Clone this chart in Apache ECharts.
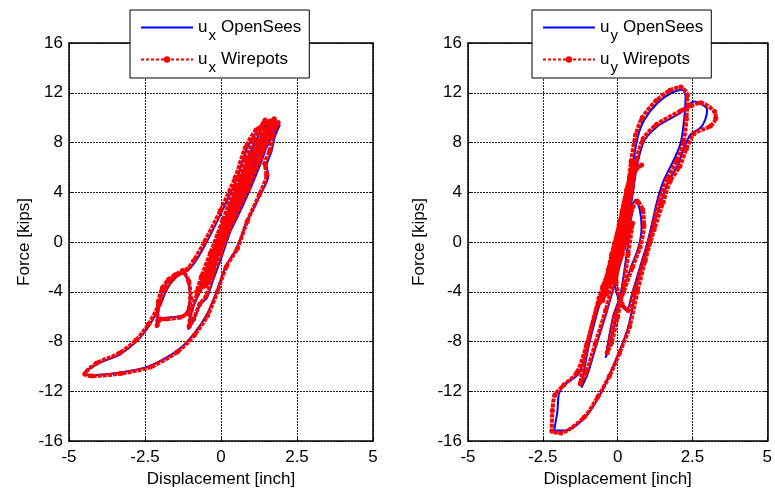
<!DOCTYPE html>
<html>
<head>
<meta charset="utf-8">
<script src="https://cdn.jsdelivr.net/npm/echarts@6/dist/echarts.min.js"></script>
<style>
  html, body { margin: 0; padding: 0; background: #fff; }
  #chart { width: 775px; height: 493px; }
</style>
</head>
<body>
<div id="chart"></div>
<script>
// tick labels
var xTicks = [-5, -2.5, 0, 2.5, 5];
var yTicks = [-16, -12, -8, -4, 0, 4, 8, 12, 16];

// ux : displacement [inch], force [kips]
var uxOpenSees = [
  [0,0],[0.25,1.6],[0.5,3.3],[0.6,4.2],[0.55,4.0],[0.3,2.2],[0.0,0.2],[-0.25,-1.6],[-0.4,-2.9],[-0.35,-2.9],[-0.1,-1.2],
  [0.2,0.8],[0.55,3.0],[0.85,5.2],[1.05,6.8],[1.0,6.7],[0.7,5.0],[0.35,2.8],[0.0,0.6],[-0.3,-1.4],[-0.55,-3.2],[-0.5,-3.3],[-0.2,-1.6],
  [0.1,0.2],[0.4,2.0],[0.75,4.2],[1.05,6.2],[1.3,7.9],[1.25,7.8],[0.95,6.0],[0.6,3.8],[0.25,1.6],[-0.1,-0.6],[-0.4,-2.4],[-0.55,-3.5],[-0.45,-3.4],[-0.15,-1.5],
  [0.2,0.6],[0.6,2.8],[1.0,5.0],[1.35,7.0],[1.6,9.0],[1.55,8.9],[1.25,7.6],[0.9,5.8],[0.5,3.4],[0.15,1.0],[-0.2,-1.2],[-0.5,-3.0],[-0.45,-3.1],[-0.1,-1.2],
  [0.15,0.4],[0.55,2.6],[0.95,5.0],[1.25,7.2],[1.5,9.7],[1.42,9.4],[1.15,8.2],[0.85,6.5],[0.5,4.2],[0.1,1.6],[-0.3,-0.9],[-0.6,-2.8],[-0.75,-3.9],[-0.65,-3.8],[-0.35,-2.2],
  [0.3,1.0],[0.7,3.2],[1.1,5.6],[1.45,7.8],[1.7,9.4],[1.62,9.2],[1.3,8.0],[0.95,6.2],[0.55,3.9],[0.2,1.4],[-0.2,-1.0],[-0.3,-1.6],
  [0.05,-0.3],[0.5,1.8],[0.95,4.2],[1.35,6.6],[1.6,8.4],[1.8,9.85],[1.65,9.6],[1.2,8.9],[0.85,7.5],[0.52,5.1],[0.02,2.4],[-0.47,0],
  [-0.85,-1.6],[-1.1,-2.3],[-1.24,-2.38],[-1.5,-2.7],[-1.68,-3.05],[-1.9,-3.71],[-2.02,-4.8],[-2.12,-6.9],[-1.98,-6.2],[-1.79,-6.1],[-1.35,-5.97],
  [-1.13,-5.7],[-1.02,-4.5],[-1.08,-3.18],[-1.24,-2.5],[-1.55,-3.0],[-1.8,-3.9],[-2.0,-5.1],[-2.34,-6.64],[-2.77,-7.97],[-3.32,-9.03],[-4.09,-9.83],
  [-4.51,-10.58],[-4.31,-10.71],[-3.32,-10.5],[-2.34,-9.96],[-1.46,-8.77],[-0.91,-7.44],[-0.47,-5.85],[-0.14,-3.98],[0.15,-2.0],[0.52,-0.52],
  [0.85,1.61],[1.28,3.73],[1.56,5.33],[1.5,6.13],[1.65,7.2],[1.78,8.52],[1.94,9.45],[1.85,9.2],[1.5,7.6],[1.1,5.5],[0.65,3.0],[0.2,0.4],
  [-0.3,-2.2],[-0.75,-4.3],[-0.96,-5.57],[-1.08,-7.04],[-0.9,-6.3],[-0.69,-5.05],[-0.47,-4.5],[-0.25,-3.0],[0.05,-1.0],[0.3,0.8],[0.2,0.3],[0.0,-0.6]
];
var uxWirepots = [
  [-0.05,0],[0.2,1.7],[0.45,3.4],[0.55,4.4],[0.5,4.2],[0.25,2.3],[-0.05,0.2],[-0.3,-1.6],[-0.45,-3.0],[-0.4,-3.0],[-0.15,-1.2],
  [0.15,0.9],[0.5,3.1],[0.8,5.3],[1.0,7.0],[0.95,6.9],[0.65,5.1],[0.3,2.9],[-0.05,0.7],[-0.35,-1.4],[-0.6,-3.2],[-0.55,-3.4],[-0.25,-1.6],
  [0.05,0.3],[0.35,2.1],[0.7,4.3],[1.0,6.4],[1.25,8.1],[1.2,8.0],[0.9,6.1],[0.55,3.9],[0.2,1.7],[-0.15,-0.6],[-0.45,-2.4],[-0.6,-3.6],[-0.5,-3.5],[-0.2,-1.5],
  [0.15,0.7],[0.55,2.9],[0.95,5.1],[1.3,7.1],[1.55,9.2],[1.5,9.0],[1.2,7.7],[0.85,5.9],[0.45,3.5],[0.1,1.1],[-0.25,-1.2],[-0.55,-3.0],[-0.5,-3.2],[-0.15,-1.2],
  [0.1,0.5],[0.5,2.7],[0.9,5.1],[1.2,7.4],[1.45,9.8],[1.38,9.5],[1.1,8.3],[0.8,6.6],[0.45,4.3],[0.05,1.7],[-0.35,-0.9],[-0.65,-2.8],[-0.8,-4.0],[-0.7,-3.9],[-0.4,-2.2],
  [0.25,1.1],[0.65,3.3],[1.05,5.7],[1.4,7.9],[1.65,9.5],[1.57,9.3],[1.25,8.1],[0.9,6.3],[0.5,4.0],[0.15,1.5],[-0.25,-1.0],[-0.35,-1.6],
  [0.0,-0.3],[0.45,1.9],[0.9,4.3],[1.3,6.7],[1.55,8.5],[1.75,9.9],[1.6,9.7],[1.15,9.0],[0.8,7.6],[0.47,5.2],[-0.03,2.5],[-0.52,0.1],
  [-0.9,-1.5],[-1.12,-2.2],[-1.26,-2.3],[-1.52,-2.65],[-1.72,-3.0],[-1.93,-3.7],[-2.06,-4.8],[-2.1,-6.7],[-1.98,-6.2],[-1.8,-6.2],[-1.35,-6.05],
  [-1.12,-5.75],[-1.0,-4.5],[-1.06,-3.15],[-1.24,-2.45],[-1.58,-2.95],[-1.84,-3.85],[-2.04,-5.05],[-2.38,-6.6],[-2.8,-7.9],[-3.35,-8.95],[-4.1,-9.75],
  [-4.48,-10.62],[-4.25,-10.78],[-3.3,-10.58],[-2.32,-10.05],[-1.44,-8.85],[-0.88,-7.5],[-0.44,-5.9],[-0.12,-4.0],[0.17,-2.0],[0.54,-0.5],
  [0.86,1.65],[1.26,3.8],[1.5,5.4],[1.44,6.3],[1.6,7.3],[1.72,8.6],[1.88,9.6],[1.8,9.3],[1.45,7.7],[1.05,5.6],[0.6,3.1],[0.15,0.5],
  [-0.35,-2.1],[-0.78,-4.2],[-0.98,-5.5],[-1.05,-6.8],[-0.9,-6.2],[-0.7,-5.0],[-0.5,-4.4],[-0.3,-2.9],[0.0,-0.9],[0.25,0.9],[0.15,0.3],[-0.05,-0.5]
];

// uy : displacement [inch], force [kips]
var uyOpenSees = [
  [0,0],[0.15,1.5],[0.35,3.6],[0.5,5.2],[0.45,5.0],[0.2,2.4],[-0.05,-0.2],[-0.25,-2.2],[-0.4,-3.8],[-0.35,-3.7],[-0.1,-1.6],[0.15,0.6],
  [0.35,2.8],[0.55,5.4],[0.6,6.0],[0.5,5.6],[0.25,3.0],[0.0,0.6],[-0.25,-1.8],[-0.5,-4.4],[-0.42,-4.3],[-0.15,-2.0],[0.1,0.2],
  [0.25,2.8],[0.45,5.0],[0.6,6.1],[0.52,5.8],[0.3,3.2],[0.05,0.4],[-0.2,-2.0],[-0.45,-3.6],[-0.55,-4.8],[-0.45,-4.6],[-0.2,-2.4],
  [0.05,0.0],[0.2,2.0],[0.4,4.4],[0.35,4.1],[0.1,1.4],[-0.15,-1.0],[-0.35,-3.2],[-0.3,-3.1],[0.0,-0.6],
  [0.3,2.4],[0.52,6.4],[0.68,8.52],[0.9,9.85],[1.34,11.19],[1.8,12.0],[2.16,12.25],[2.27,11.7],[2.22,9.85],[2.11,8.0],[1.89,6.66],
  [1.56,5.07],[1.34,3.47],[1.15,1.5],[1.0,0.0],[0.75,-2.0],[0.5,-4.0],[0.3,-5.5],[0.1,-5.0],[-0.1,-3.2],[0.1,-0.5],[0.35,2.0],
  [0.6,3.4],[0.74,2.6],[0.8,1.2],[0.7,-0.4],[0.45,-2.0],[0.15,-4.0],[-0.15,-6.0],[-0.4,-9.3],[-0.25,-8.2],[-0.05,-6.0],[0.15,-3.5],
  [0.3,-1.0],[0.45,1.5],[0.4,1.2],[0.1,-1.0],[-0.2,-3.0],[-0.53,-4.5],[-0.97,-8.4],[-1.21,-11.7],[-1.0,-10.6],[-0.7,-8.2],[-0.35,-5.5],
  [0.0,-2.5],[0.3,0.2],[0.5,2.5],[0.4,2.2],[0.1,-0.5],[-0.3,-2.7],[-0.55,-4.5],[-0.97,-8.24],[-1.3,-10.6],[-1.74,-11.4],[-1.96,-12.2],
  [-2.01,-13.55],[-2.12,-15.15],[-1.74,-15.15],[-1.08,-14.08],[-0.64,-12.5],[-0.31,-10.9],[0.02,-9.03],[0.35,-6.9],[0.6,-4.0],
  [0.85,-1.5],[1.15,1.0],[1.45,3.2],[1.7,4.9],[2.0,6.13],[2.22,7.6],[2.44,8.65],[2.77,9.19],[2.93,9.85],[2.99,10.66],[2.55,11.3],
  [2.3,10.9],[2.11,10.39],[1.34,9.32],[0.9,8.2],[0.68,6.5],[0.5,4.0],[0.25,1.0],[0.0,-1.5],[-0.25,-3.5],[-0.2,-3.3],[0.1,-1.0],
  [0.35,1.8],[0.55,4.5],[0.5,4.3],[0.25,1.4],[0.0,-1.0]
];
var uyWirepots = [
  [-0.05,0],[0.1,1.6],[0.3,3.7],[0.45,5.4],[0.4,5.2],[0.15,2.5],[-0.1,-0.2],[-0.3,-2.2],[-0.48,-4.0],[-0.42,-3.9],[-0.15,-1.6],[0.1,0.7],
  [0.3,2.9],[0.55,5.6],[0.8,6.2],[0.6,5.8],[0.3,3.1],[0.05,0.6],[-0.2,-1.8],[-0.45,-4.3],[-0.38,-4.2],[-0.1,-2.0],[0.15,0.2],
  [0.2,2.9],[0.4,5.1],[0.55,6.3],[0.48,6.0],[0.25,3.3],[0.0,0.4],[-0.25,-2.0],[-0.5,-3.6],[-0.62,-4.9],[-0.5,-4.7],[-0.25,-2.4],
  [0.0,0.0],[0.15,2.1],[0.35,4.5],[0.3,4.2],[0.05,1.4],[-0.2,-1.0],[-0.4,-3.2],[-0.35,-3.1],[-0.05,-0.6],
  [0.25,2.5],[0.45,6.5],[0.6,8.6],[0.82,10.0],[1.28,11.35],[1.75,12.2],[2.11,12.46],[2.33,11.8],[2.3,9.9],[2.2,8.0],[1.98,6.6],
  [1.64,5.0],[1.4,3.4],[1.2,1.5],[1.05,0.0],[0.8,-2.0],[0.55,-4.0],[0.35,-5.5],[0.15,-5.0],[-0.05,-3.2],[0.15,-0.5],[0.4,2.0],
  [0.65,3.3],[0.84,2.6],[0.88,1.3],[0.75,-0.4],[0.5,-2.0],[0.2,-4.0],[-0.1,-6.0],[-0.35,-8.9],[-0.2,-8.1],[0.0,-6.0],[0.2,-3.5],
  [0.35,-1.0],[0.5,1.5],[0.45,1.2],[0.15,-1.0],[-0.15,-3.0],[-0.6,-4.6],[-1.03,-8.4],[-1.25,-11.4],[-1.05,-10.5],[-0.75,-8.2],[-0.4,-5.5],
  [-0.05,-2.5],[0.25,0.2],[0.45,2.6],[0.35,2.2],[0.05,-0.5],[-0.35,-2.7],[-0.62,-4.5],[-1.03,-8.2],[-1.36,-10.5],[-1.8,-11.5],[-2.1,-12.3],
  [-2.18,-13.55],[-2.2,-15.2],[-1.9,-15.35],[-1.12,-14.1],[-0.66,-12.45],[-0.28,-10.8],[0.06,-8.95],[0.4,-6.8],[0.66,-4.0],
  [0.92,-1.5],[1.22,1.0],[1.52,3.2],[1.76,4.9],[2.08,6.1],[2.3,7.5],[2.55,8.7],[3.1,9.32],[3.28,9.95],[3.24,10.5],[2.78,11.2],
  [2.45,10.95],[2.11,10.55],[1.3,9.45],[0.85,8.3],[0.62,6.5],[0.45,4.0],[0.2,1.0],[-0.05,-1.5],[-0.3,-3.5],[-0.25,-3.3],[0.05,-1.0],
  [0.3,1.8],[0.5,4.5],[0.45,4.3],[0.2,1.4],[-0.05,-1.0]
];

var fontFam = '"Liberation Sans", Arial, sans-serif';

function baseX(grid, pos, showLabel) {
  return {
    type: 'value', gridIndex: grid, position: pos,
    min: xTicks[0], max: xTicks[xTicks.length - 1], interval: 2.5,
    axisLine: { onZero: false, lineStyle: { color: '#000', width: 1.5 } },
    axisTick: { show: true, inside: true, length: 4, lineStyle: { color: '#000' } },
    axisLabel: { show: showLabel, color: '#000', fontSize: 17, fontFamily: fontFam, margin: 8 },
    splitLine: { show: showLabel, lineStyle: { color: '#222', type: [2, 1], width: 1 } },
    name: showLabel ? 'Displacement [inch]' : '', nameLocation: 'middle', nameGap: 30,
    nameTextStyle: { color: '#000', fontSize: 17, fontFamily: fontFam }
  };
}
function baseY(grid, pos, showLabel, gap) {
  return {
    type: 'value', gridIndex: grid, position: pos,
    min: yTicks[0], max: yTicks[yTicks.length - 1], interval: 4,
    axisLine: { onZero: false, lineStyle: { color: '#000', width: 1.5 } },
    axisTick: { show: true, inside: true, length: 4, lineStyle: { color: '#000' } },
    axisLabel: { show: showLabel, color: '#000', fontSize: 17, fontFamily: fontFam, margin: 6 },
    splitLine: { show: showLabel, lineStyle: { color: '#222', type: [2, 1], width: 1 } },
    name: showLabel ? 'Force [kips]' : '', nameLocation: 'middle', nameGap: gap,
    nameTextStyle: { color: '#000', fontSize: 17, fontFamily: fontFam }
  };
}

function blue(name, xi, data) {
  return {
    name: name, type: 'line', xAxisIndex: xi, yAxisIndex: xi,
    data: data, smooth: 0.25, symbol: 'none',
    lineStyle: { color: '#0000ff', width: 2 }, itemStyle: { color: '#0000ff' }
  };
}
function red(name, xi, data) {
  return {
    name: name, type: 'line', xAxisIndex: xi, yAxisIndex: xi,
    data: data, smooth: 0.25, symbol: 'circle', symbolSize: 5, showSymbol: true,
    lineStyle: { color: '#ff0000', width: 4, type: [4, 1] }, itemStyle: { color: '#ff0000' }
  };
}

var richText = {
  u: { fontSize: 17, fontFamily: fontFam, color: '#000' },
  s: { fontSize: 15, fontFamily: fontFam, color: '#000', padding: [16, 0, 0, 1] },
  n: { fontSize: 17, fontFamily: fontFam, color: '#000', padding: [0, 0, 0, 5] }
};
function legendFmt(name) {
  var parts = name.split(' ');
  return '{u|u}{s|' + parts[0].substring(1) + '}{n|' + parts[1] + '}';
}
function legendBox(left, names) {
  return {
    left: left, top: 10, orient: 'vertical',
    padding: [9, 8, 3, 10], itemGap: 8, itemWidth: 52, itemHeight: 8,
    borderColor: '#000', borderWidth: 1, backgroundColor: '#fff',
    data: [
      { name: names[0], lineStyle: { width: 2, type: 'solid' }, itemStyle: { opacity: 0 } },
      { name: names[1], lineStyle: { width: 2, type: [3, 2] } }
    ],
    formatter: legendFmt,
    textStyle: { rich: richText }
  };
}

var chart = echarts.init(document.getElementById('chart'), null, { renderer: 'canvas' });
chart.setOption({
  animation: false,
  backgroundColor: '#fff',
  grid: [
    { left: 69, top: 43, width: 304, height: 401 },
    { left: 468, top: 43, width: 303, height: 401 }
  ],
  xAxis: [baseX(0, 'bottom', true), baseX(1, 'bottom', true), baseX(0, 'top', false), baseX(1, 'top', false)],
  yAxis: [baseY(0, 'left', true, 36), baseY(1, 'left', true, 40), baseY(0, 'right', false, 0), baseY(1, 'right', false, 0)],
  legend: [
    legendBox(130, ['ux OpenSees', 'ux Wirepots']),
    legendBox(532, ['uy OpenSees', 'uy Wirepots'])
  ],
  series: [
    blue('ux OpenSees', 0, uxOpenSees),
    red('ux Wirepots', 0, uxWirepots),
    blue('uy OpenSees', 1, uyOpenSees),
    red('uy Wirepots', 1, uyWirepots)
  ]
});
</script>
</body>
</html>
